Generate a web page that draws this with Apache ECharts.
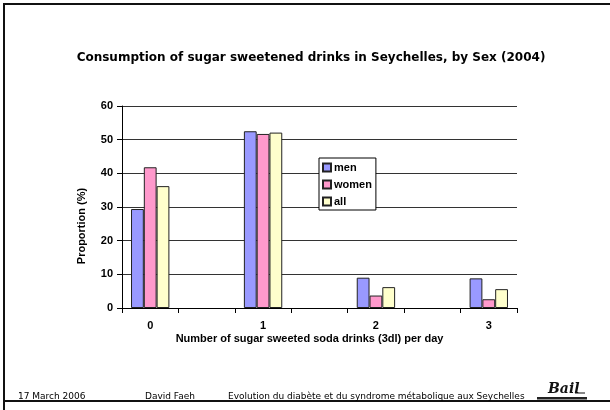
<!DOCTYPE html>
<html>
<head>
<meta charset="utf-8">
<script src="https://cdn.jsdelivr.net/npm/echarts@6/dist/echarts.min.js"></script>
<style>
  html, body { margin: 0; padding: 0; background: #fff; }
  #chart { width: 610px; height: 410px; }
</style>
</head>
<body>
<div id="chart"></div>
<script>
// Drinks per day; blank slots keep the groups apart on the axis
const categories = ['0', '', '1', '', '2', '', '3'];
const men   = [29.4, null, 52.5, null, 9.0, null, 8.8];
const women = [41.8, null, 51.7, null, 3.7, null, 2.6];
const all   = [36.2, null, 52.1, null, 6.2, null, 5.6];
const yTicks = { min: 0, max: 60, step: 10 };

const chart = echarts.init(document.getElementById('chart'), null, { renderer: 'canvas' });

const boldArial = { fontFamily: 'Liberation Sans, Arial, sans-serif', fontWeight: 'bold', fontSize: 11, color: '#000' };

function barSeries(name, data, color) {
  return {
    name: name,
    type: 'bar',
    data: data,
    barGap: '0%',
    barCategoryGap: '32%',
    itemStyle: { color: color, borderColor: '#222', borderWidth: 1 },
    emphasis: { disabled: true }
  };
}

chart.setOption({
  animation: false,
  title: {
    text: 'Consumption of sugar sweetened drinks in Seychelles, by Sex (2004)',
    left: 306, top: 47, textAlign: 'center',
    textStyle: { fontFamily: 'DejaVu Sans, Verdana, sans-serif', fontWeight: 'bold', fontSize: 12, color: '#000' }
  },
  legend: {
    orient: 'vertical',
    left: 319, top: 158,
    padding: [4, 4, 3, 3],
    itemWidth: 8, itemHeight: 8, itemGap: 6,
    borderColor: '#000', borderWidth: 1,
    backgroundColor: '#fff',
    icon: 'rect',
    textStyle: Object.assign({}, boldArial, { padding: [0, 0, 0, -2] }),
    data: ['men', 'women', 'all']
  },
  grid: { left: 122, right: 93, top: 106, bottom: 102 },
  xAxis: {
    type: 'category',
    data: categories,
    name: 'Number of sugar sweeted soda drinks (3dl) per day',
    nameLocation: 'middle',
    nameGap: 25,
    nameTextStyle: Object.assign({}, boldArial, { padding: [0, 20, 0, 0] }),
    axisLine: { lineStyle: { color: '#000', width: 1 } },
    axisTick: { show: true, interval: 0, length: 5, lineStyle: { color: '#000' } },
    axisLabel: Object.assign({}, boldArial, { interval: 0, margin: 12 })
  },
  yAxis: {
    type: 'value',
    min: yTicks.min, max: yTicks.max, interval: yTicks.step,
    axisLine: { show: true, lineStyle: { color: '#000', width: 1 } },
    axisTick: { show: true, length: 5, lineStyle: { color: '#000' } },
    axisLabel: Object.assign({}, boldArial, { margin: 9 }),
    splitLine: { lineStyle: { color: '#333', width: 1 } }
  },
  series: [
    barSeries('men', men, '#9999FF'),
    barSeries('women', women, '#FF99CC'),
    barSeries('all', all, '#FFFFCC')
  ],
  graphic: [
    // slide frame
    { type: 'polyline', shape: { points: [[4, 410], [4, 4], [610, 4]] }, style: { stroke: '#111', lineWidth: 2, fill: null } },
    { type: 'line', shape: { x1: 4, y1: 401, x2: 610, y2: 401 }, style: { stroke: '#111', lineWidth: 2 } },
    // y axis title
    {
      type: 'text', x: 82, y: 226, rotation: Math.PI / 2,
      style: { text: 'Proportion (%)', align: 'center', verticalAlign: 'middle', font: 'bold 11px "Liberation Sans", Arial, sans-serif', fill: '#000' }
    },
    // footer
    { type: 'text', x: 18, y: 397, style: { text: '17 March 2006', font: '9px "DejaVu Sans", Verdana, sans-serif', fill: '#000', verticalAlign: 'middle' } },
    { type: 'text', x: 145, y: 397, style: { text: 'David Faeh', font: '9px "DejaVu Sans", Verdana, sans-serif', fill: '#000', verticalAlign: 'middle' } },
    { type: 'text', x: 228, y: 397, style: { text: 'Evolution du diabète et du syndrome métabolique aux Seychelles', font: '9px "DejaVu Sans", Verdana, sans-serif', fill: '#000', verticalAlign: 'middle' } },
    // institute signature mark
    { type: 'text', x: 548, y: 389, style: { text: 'Bail', font: 'italic bold 14px "DejaVu Serif", serif', fill: '#111', verticalAlign: 'middle' } },
    { type: 'line', shape: { x1: 575, y1: 393, x2: 585, y2: 393 }, style: { stroke: '#111', lineWidth: 1 } },
    { type: 'rect', shape: { x: 537, y: 397, width: 50, height: 2.5 }, style: { fill: '#222' } }
  ]
});
</script>
</body>
</html>
